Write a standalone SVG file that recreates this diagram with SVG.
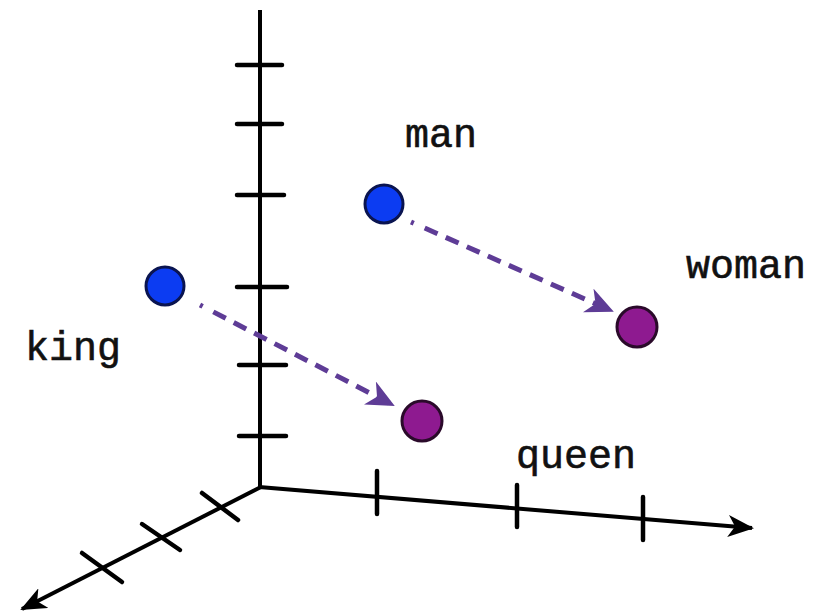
<svg xmlns="http://www.w3.org/2000/svg" width="815" height="615" viewBox="0 0 815 615">
<defs>
<marker id="ax2" markerWidth="26" markerHeight="22" refX="24" refY="11" orient="auto" markerUnits="userSpaceOnUse" viewBox="0 0 26 22">
<path d="M0,0 L26,11 L0,22 L7,11 Z" fill="#000"/>
</marker>
<marker id="pa" markerWidth="28" markerHeight="26" refX="26" refY="13" orient="auto" markerUnits="userSpaceOnUse" viewBox="0 0 28 26">
<path d="M0,0 L28,13 L0,26 L8,13 Z" fill="#5e3c96"/>
</marker>
</defs>
<style>
.axis{stroke:#000;stroke-width:4;fill:none}
.tick{stroke:#000;stroke-width:4.5;stroke-linecap:round}
.vec{stroke:#5e3c96;stroke-width:5;fill:none;stroke-dasharray:3 12 14 9 14 9 14 9 14 9 14 9 14 9 14 9 14 9 14 9}
.lbl{font-family:"Liberation Mono","Courier New",monospace;font-size:40px;fill:#111;stroke:#111;stroke-width:0.6}
.blue{fill:#0c3cf2;stroke:#0a1450;stroke-width:3}
.purple{fill:#8e1a90;stroke:#2a0a2a;stroke-width:3}
</style>
<rect width="815" height="615" fill="#fff"/>
<g id="axes">
<line class="axis" x1="260" y1="10" x2="260" y2="488"/>
<line class="axis" x1="259" y1="487" x2="752" y2="528" marker-end="url(#ax2)"/>
<line class="axis" x1="261" y1="487" x2="22" y2="609" marker-end="url(#ax2)"/>
<line class="tick" x1="237" y1="65" x2="282" y2="65"/>
<line class="tick" x1="237" y1="124" x2="282" y2="124"/>
<line class="tick" x1="237" y1="195" x2="284" y2="195"/>
<line class="tick" x1="237" y1="287" x2="287" y2="287"/>
<line class="tick" x1="239" y1="365" x2="286" y2="365"/>
<line class="tick" x1="239" y1="436" x2="286" y2="436"/>
<line class="tick" x1="377" y1="471" x2="377" y2="514"/>
<line class="tick" x1="517" y1="485" x2="517" y2="527"/>
<line class="tick" x1="643" y1="497" x2="643" y2="540"/>
<line class="tick" x1="82" y1="553" x2="122" y2="582"/>
<line class="tick" x1="142" y1="524" x2="180" y2="550"/>
<line class="tick" x1="202" y1="493" x2="238" y2="520"/>
</g>
<g id="connectors">
<path class="vec" d="M200,305 L393,405" marker-end="url(#pa)"/>
<path class="vec" d="M411,222 L612,311" marker-end="url(#pa)"/>
</g>
<g id="man"><circle class="blue" cx="384" cy="204" r="19"/><text class="lbl" x="405" y="147">man</text></g>
<g id="king"><circle class="blue" cx="165" cy="286" r="19"/><text class="lbl" x="25" y="360">king</text></g>
<g id="woman"><circle class="purple" cx="637" cy="327" r="20"/><text class="lbl" x="686" y="278">woman</text></g>
<g id="queen"><circle class="purple" cx="422" cy="421" r="20"/><text class="lbl" x="516" y="468">queen</text></g>
</svg>
